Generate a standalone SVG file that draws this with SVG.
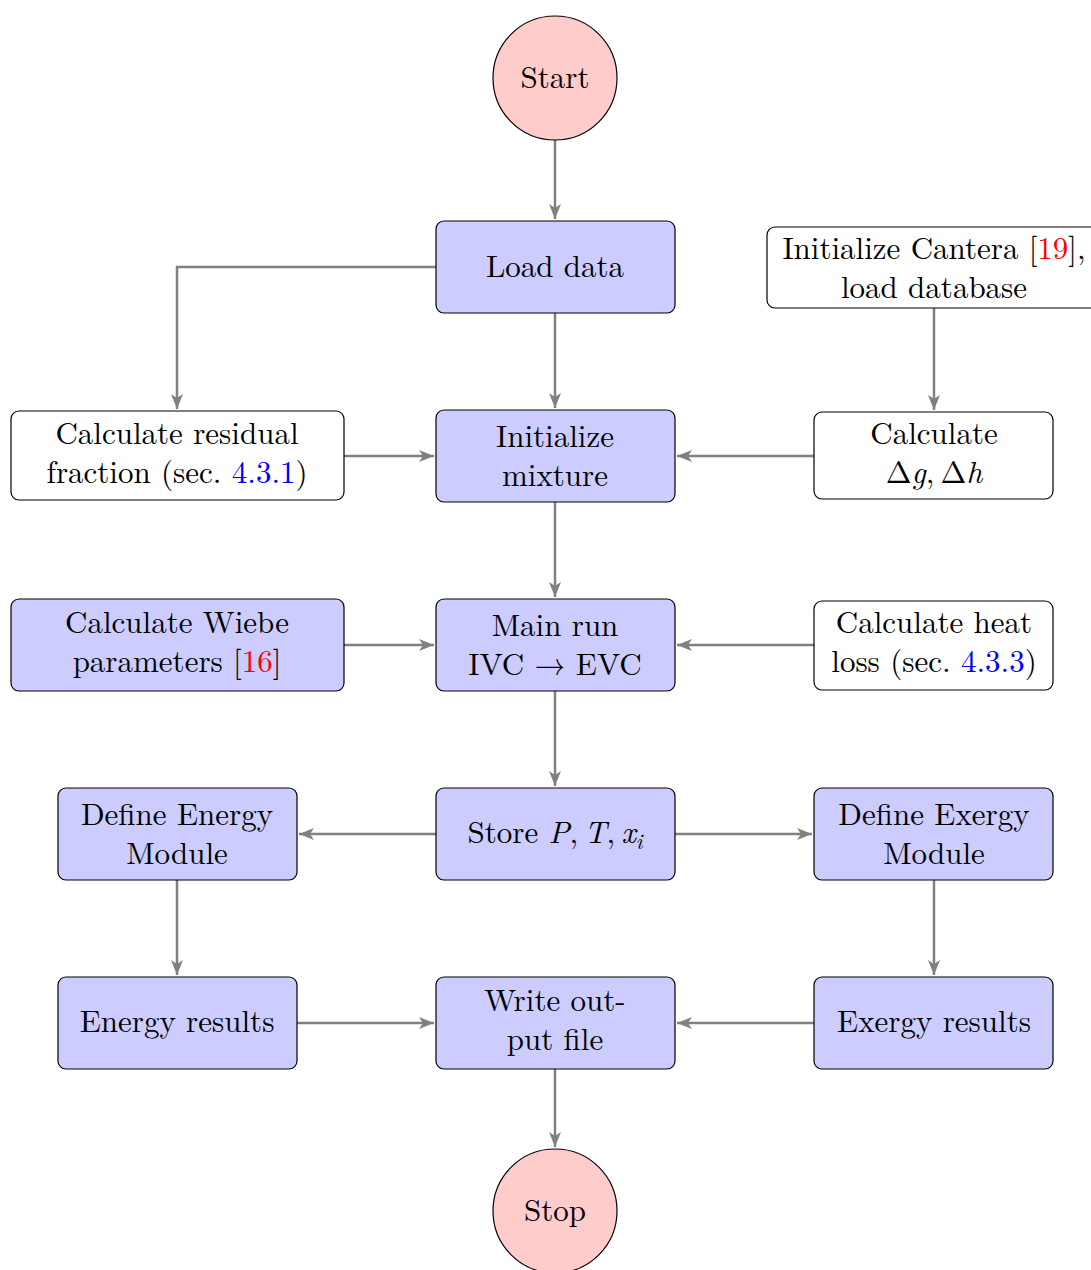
<svg xmlns="http://www.w3.org/2000/svg" width="1091" height="1270" viewBox="0 0 1091 1270">
<style>
.blue{fill:#ccccff;stroke:#000;stroke-width:1.2}
.white{fill:#fff;stroke:#000;stroke-width:1.2}
.term{fill:#ffcccc;stroke:#000;stroke-width:1.2}
text{font-family:"Latin Modern Roman","Liberation Serif","DejaVu Serif",serif;font-size:31px;fill:#000;text-anchor:middle}
.it{font-style:italic}
.ref{fill:#ff0000}
.sec{fill:#0000ff}
.conn{fill:none;stroke:#808080;stroke-width:2.5;marker-end:url(#ah)}
</style>
<defs>
<marker id="ah" markerUnits="userSpaceOnUse" markerWidth="20" markerHeight="16" refX="0" refY="0" viewBox="-16 -8 20 16" orient="auto">
<path d="M-15,-6 L0,0 L-15,6 L-11,0 z" fill="#808080"/>
</marker>
</defs>
<g id="connectors">
<path class="conn" d="M555,140 V219"/>
<path class="conn" d="M436,267 H177 V409"/>
<path class="conn" d="M555,313 V408"/>
<path class="conn" d="M934,308 V410"/>
<path class="conn" d="M344,456 H434"/>
<path class="conn" d="M814,456 H677"/>
<path class="conn" d="M555,502 V597"/>
<path class="conn" d="M344,645 H434"/>
<path class="conn" d="M814,645 H677"/>
<path class="conn" d="M555,691 V786"/>
<path class="conn" d="M436,834 H299"/>
<path class="conn" d="M675,834 H812"/>
<path class="conn" d="M177,880 V975"/>
<path class="conn" d="M934,880 V975"/>
<path class="conn" d="M297,1023 H434"/>
<path class="conn" d="M814,1023 H677"/>
<path class="conn" d="M555,1069 V1147"/>
</g>
<g id="start"><circle class="term" cx="555" cy="78" r="62"/><text x="555" y="88">Start</text></g>
<g id="load"><rect class="blue" x="436" y="221" width="239" height="92" rx="8"/><text x="555" y="277">Load data</text></g>
<g id="cantera"><rect class="white" x="767" y="227" width="340" height="81" rx="8"/><text x="934" y="259">Initialize Cantera [<tspan class="ref">19</tspan>],</text><text x="934" y="298">load database</text></g>
<g id="residual"><rect class="white" x="11" y="411" width="333" height="89" rx="8"/><text x="177" y="444">Calculate residual</text><text x="177" y="483">fraction (sec. <tspan class="sec">4.3.1</tspan>)</text></g>
<g id="init"><rect class="blue" x="436" y="410" width="239" height="92" rx="8"/><text x="555" y="447">Initialize</text><text x="555" y="486">mixture</text></g>
<g id="deltag"><rect class="white" x="814" y="412" width="239" height="87" rx="8"/><text x="934" y="444">Calculate</text><text x="934" y="483">Δ<tspan class="it">g</tspan>,&#8201;Δ<tspan class="it">h</tspan></text></g>
<g id="wiebe"><rect class="blue" x="11" y="599" width="333" height="92" rx="8"/><text x="177" y="633">Calculate Wiebe</text><text x="177" y="672">parameters [<tspan class="ref">16</tspan>]</text></g>
<g id="main"><rect class="blue" x="436" y="599" width="239" height="92" rx="8"/><text x="555" y="636">Main run</text><text x="555" y="675">IVC → EVC</text></g>
<g id="heat"><rect class="white" x="814" y="601" width="239" height="89" rx="8"/><text x="934" y="633">Calculate heat</text><text x="934" y="672">loss (sec. <tspan class="sec">4.3.3</tspan>)</text></g>
<g id="store"><rect class="blue" x="436" y="788" width="239" height="92" rx="8"/><text x="555" y="843">Store <tspan class="it">P</tspan>,&#8201;<tspan class="it">T</tspan>,&#8201;<tspan class="it">x</tspan><tspan class="it" font-size="22" dy="6">i</tspan></text></g>
<g id="energymod"><rect class="blue" x="58" y="788" width="239" height="92" rx="8"/><text x="177" y="825">Define Energy</text><text x="177" y="864">Module</text></g>
<g id="exergymod"><rect class="blue" x="814" y="788" width="239" height="92" rx="8"/><text x="934" y="825">Define Exergy</text><text x="934" y="864">Module</text></g>
<g id="energyres"><rect class="blue" x="58" y="977" width="239" height="92" rx="8"/><text x="177" y="1032">Energy results</text></g>
<g id="write"><rect class="blue" x="436" y="977" width="239" height="92" rx="8"/><text x="555" y="1011">Write out-</text><text x="555" y="1050">put file</text></g>
<g id="exergyres"><rect class="blue" x="814" y="977" width="239" height="92" rx="8"/><text x="934" y="1032">Exergy results</text></g>
<g id="stop"><circle class="term" cx="555" cy="1211" r="62"/><text x="555" y="1221">Stop</text></g>
</svg>
